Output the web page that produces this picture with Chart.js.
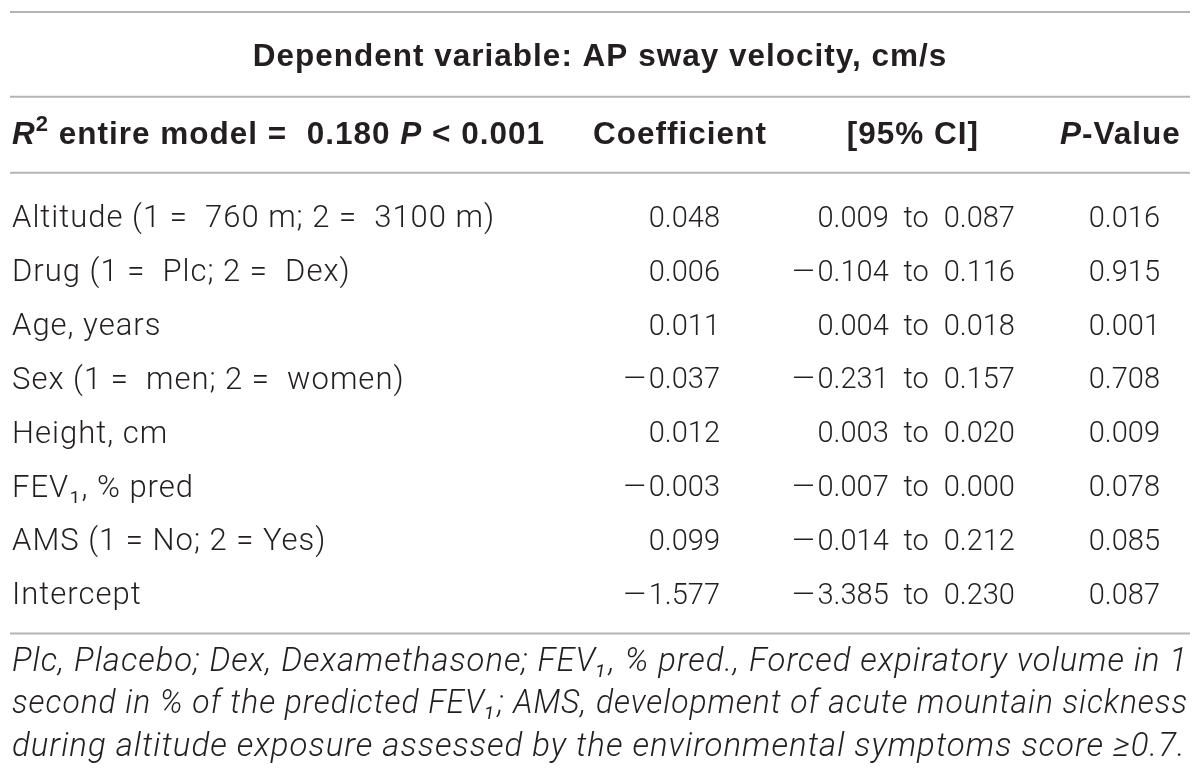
<!DOCTYPE html>
<html>
<head>
<meta charset="utf-8">
<script src="https://cdn.jsdelivr.net/npm/chart.js@4/dist/chart.umd.min.js"></script>
<style>
  html, body { margin: 0; padding: 0; background: #fff; }
</style>
</head>
<body>
<canvas id="myChart" width="1200" height="782"></canvas>
<script>
// table data
var variables = [
  'Altitude (1 =  760 m; 2 =  3100 m)',
  'Drug (1 =  Plc; 2 =  Dex)',
  'Age, years',
  'Sex (1 =  men; 2 =  women)',
  'Height, cm',
  'FEV\u2081, % pred',
  'AMS (1 = No; 2 = Yes)',
  'Intercept'
];
var coefficient = [0.048, 0.006, 0.011, -0.037, 0.012, -0.003, 0.099, -1.577];
var ciLower = [0.009, -0.104, 0.004, -0.231, 0.003, -0.007, -0.014, -3.385];
var ciUpper = [0.087, 0.116, 0.018, 0.157, 0.020, 0.000, 0.212, 0.230];
var pValue = [0.016, 0.915, 0.001, 0.708, 0.009, 0.078, 0.085, 0.087];
var tableTitle = 'Dependent variable: AP sway velocity, cm/s';
var footnote = [
  'Plc, Placebo; Dex, Dexamethasone; FEV\u2081, % pred., Forced expiratory volume in 1',
  'second in % of the predicted FEV\u2081; AMS, development of acute mountain sickness',
  'during altitude exposure assessed by the environmental symptoms score \u22650.7.'
];

var textColour = '#231f20';
var ruleColour = '#b4b4b4';
var lightFamily = 'Roboto, "Liberation Sans", sans-serif';
var boldFamily = '"Liberation Sans", Arial, sans-serif';
var bodyFont = '300 29px ' + lightFamily;

// where the columns sit on the x scale (0..1 of the plot width)
var colRight = { coef: 0.3077, ci: 0.744, p: 0.9586 };
var headCentre = [0.2485, 0.593, 0.9];

function fmt(v) {
  // the table uses a long dash for negatives
  return v.toFixed(3).replace('-', '\u2014\u200a');
}

function rowPoints(xval) {
  return variables.map(function (v) { return { x: xval, y: v }; });
}

function drawRuns(ctx, runs, x, y, align) {
  var total = 0;
  runs.forEach(function (r) { ctx.font = r.font; total += ctx.measureText(r.text).width; });
  var cx = align == 'center' ? x - total / 2 : (align == 'right' ? x - total : x);
  ctx.textAlign = 'left';
  runs.forEach(function (r) {
    ctx.font = r.font;
    ctx.fillText(r.text, cx, y + (r.dy || 0));
    cx += ctx.measureText(r.text).width;
  });
}

// wider tracking for the labels, title and footnote (Helvetica Neue is wide)
var tracking = {
  id: 'tracking',
  beforeDraw: function (chart) {
    chart.ctx.letterSpacing = '1px';
  }
};

var tableText = {
  id: 'tableText',
  afterDatasetsDraw: function (chart) {
    var ctx = chart.ctx;
    var area = chart.chartArea;
    var xs = chart.scales.x;
    ctx.save();
    ctx.fillStyle = textColour;
    ctx.textBaseline = 'middle';

    // body cells, at each point the scales placed
    ctx.letterSpacing = '0px';
    chart.data.datasets.forEach(function (ds, i) {
      chart.getDatasetMeta(i).data.forEach(function (pt, j) {
        ctx.font = bodyFont;
        ctx.textAlign = 'right';
        ctx.fillText(ds.cellText[j], pt.x, pt.y + 3);
      });
    });

    // header row
    ctx.letterSpacing = '1px';
    var b = 'bold 31.5px ' + boldFamily;
    var bi = 'italic bold 31.5px ' + boldFamily;
    var hy = area.top - 54;
    drawRuns(ctx, [
      { text: 'R', font: bi },
      { text: '2', font: 'bold 22px ' + boldFamily, dy: -11 },
      { text: ' entire model =  0.180 ', font: b },
      { text: 'P', font: bi },
      { text: ' < 0.001', font: b }
    ], chart.scales.y.left, hy, 'left');
    drawRuns(ctx, [{ text: 'Coefficient', font: b }], xs.getPixelForValue(headCentre[0]), hy, 'center');
    drawRuns(ctx, [{ text: '[95% CI]', font: b }], xs.getPixelForValue(headCentre[1]), hy, 'center');
    drawRuns(ctx, [{ text: 'P', font: bi }, { text: '-Value', font: b }], xs.getPixelForValue(headCentre[2]), hy, 'center');

    // horizontal rules
    ctx.strokeStyle = ruleColour;
    ctx.lineWidth = 2;
    var rules = [chart.titleBlock.top + 12, area.top - 93, area.top - 17, area.bottom + 13];
    rules.forEach(function (ry) {
      ctx.beginPath();
      ctx.moveTo(10, ry);
      ctx.lineTo(area.right + 2, ry);
      ctx.stroke();
    });
    ctx.restore();
  }
};

var myChart = new Chart('myChart', {
  type: 'scatter',
  data: {
    datasets: [
      { label: 'Coefficient', data: rowPoints(colRight.coef), cellText: coefficient.map(fmt), pointRadius: 0 },
      { label: '[95% CI]', data: rowPoints(colRight.ci), cellText: ciLower.map(function (v, i) { return fmt(v) + '\u2002to\u2002' + fmt(ciUpper[i]); }), pointRadius: 0 },
      { label: 'P-Value', data: rowPoints(colRight.p), cellText: pValue.map(fmt), pointRadius: 0 }
    ]
  },
  options: {
    responsive: false,
    animation: false,
    devicePixelRatio: 1,
    layout: { padding: { left: 12, right: 12, top: 0, bottom: 0 } },
    plugins: {
      legend: { display: false },
      tooltip: { enabled: false },
      title: {
        display: true,
        text: tableTitle,
        color: textColour,
        font: { family: boldFamily, size: 31.5, weight: 'bold', lineHeight: 1.2 },
        padding: { top: 38, bottom: 114 }
      },
      subtitle: {
        display: true,
        position: 'bottom',
        align: 'start',
        text: footnote,
        color: textColour,
        font: { family: lightFamily, size: 33, style: 'italic', weight: 300, lineHeight: 1.288 },
        padding: { top: 21, bottom: 13 }
      }
    },
    scales: {
      x: { type: 'linear', min: 0, max: 1, display: false },
      y: {
        type: 'category',
        labels: variables,
        offset: true,
        position: 'left',
        grid: { display: false },
        border: { display: false },
        ticks: {
          color: textColour,
          crossAlign: 'far',
          padding: 0,
          labelOffset: 3,
          font: { family: lightFamily, size: 31, weight: 300 }
        },
        afterFit: function (scale) { scale.width = 500; }
      }
    }
  },
  plugins: [tracking, tableText]
});
</script>
</body>
</html>
